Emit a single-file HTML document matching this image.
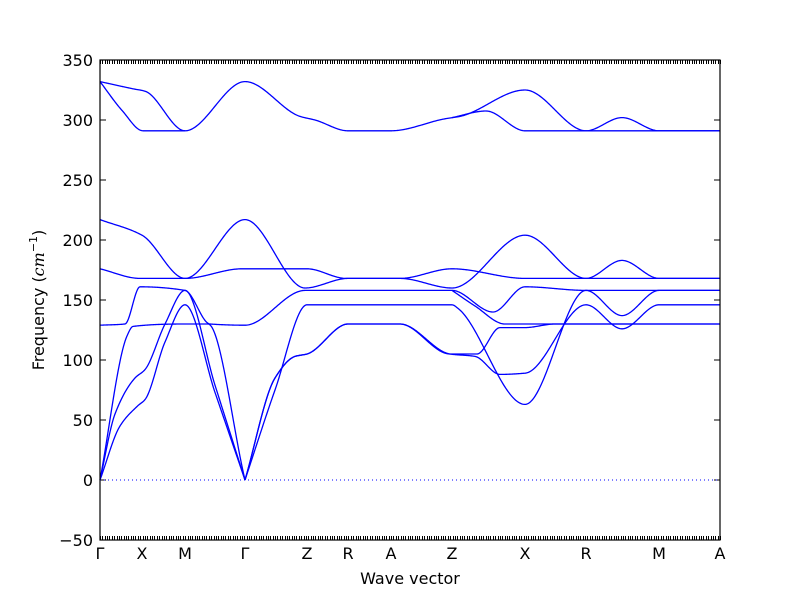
<!DOCTYPE html>
<html><head><meta charset="utf-8"><style>
body{margin:0;background:#fff}
svg text{font-family:"DejaVu Sans","Liberation Sans",sans-serif;fill:#000}
</style></head><body>
<svg id="chart" width="800" height="600" viewBox="0 0 800 600" xmlns="http://www.w3.org/2000/svg">
<rect width="800" height="600" fill="#fff"/>
<g id="ticks"></g>
<g id="bands"></g>
<line x1="100" y1="480" x2="720" y2="480" stroke="#0000ff" stroke-width="1" stroke-dasharray="1,3"/>
<rect x="100" y="60" width="620" height="480" fill="none" stroke="#000" stroke-width="1.2"/>
<g id="ylabels"></g>
<g id="xlabels"></g>
<text x="410" y="584" font-size="16" text-anchor="middle">Wave vector</text>
<text transform="translate(44,300) rotate(-90)" font-size="16" text-anchor="middle">Frequency (<tspan font-family="'DejaVu Serif',serif" font-style="italic">cm</tspan><tspan font-size="11" dy="-7">−1</tspan><tspan dy="7">)</tspan></text>
</svg>
<script>
const yTicks=[-50,0,50,100,150,200,250,300,350];
const qLabels=["Γ","X","M","Γ","Z","R","A","Z","X","R","M","A"];
const qPos=[0,0.42,0.85,1.45,2.07,2.48,2.91,3.52,4.25,4.86,5.59,6.2];
const nQ=262;
const bandT1=[[0,332],[0.33,326],[0.45,324],[0.85,291],[1.45,332],[2.0,303],[2.15,300],[2.48,291],[2.91,291],[3.45,301],[3.6,303],[4.25,325],[4.86,291],[5.22,302],[5.59,291],[6.2,291]];
const bandT2=[[0,332],[0.22,308],[0.43,291],[0.85,291]];
const bandT3=[[3.52,302],[3.86,307.5],[4.25,291],[6.2,291]];
const bandC=[[0,217],[0.42,204],[0.85,168],[1.45,217],[2.05,160],[2.48,168],[2.91,168],[3.0,168],[3.52,176],[4.25,168],[6.2,168]];
const bandD=[[0,176],[0.4,168],[0.85,168],[1.42,176],[2.07,176],[2.46,168],[2.91,168],[3.0,168],[3.52,160],[4.25,204],[4.86,168],[5.22,183],[5.59,168],[6.2,168]];
const bandE=[[0,129],[0.25,130],[0.4,161],[0.85,158],[1.1,130],[1.45,129],[2.05,158],[3.52,158],[3.93,140],[4.25,161],[4.86,158],[6.2,158]];
const bandE2=[[3.52,158],[3.75,145],[4.05,130],[6.2,130]];
const bandF1=[[0,0],[0.27,120],[0.33,128],[0.85,130],[1.08,130],[1.45,0]];
const bandF2=[[0,0],[0.15,55],[0.35,85],[0.45,92],[0.65,130],[0.85,158],[1.15,79],[1.45,0]];
const bandF3=[[0,0],[0.2,45],[0.38,62],[0.45,67],[0.65,115],[0.85,146],[1.15,73],[1.45,0]];
const bandG1=[[1.45,0],[1.75,85],[1.95,103],[2.07,105],[2.48,130],[2.91,130],[3.0,130],[3.5,105],[3.77,105],[4.0,127],[4.25,127],[4.55,130],[6.2,130]];
const bandG2=[[1.45,0],[1.75,85],[1.95,103],[2.07,105],[2.48,130],[2.91,130],[3.0,130],[3.5,105],[3.75,103],[4.0,88],[4.25,89],[4.86,146],[5.22,126],[5.59,146],[6.2,146]];
const bandG3=[[1.45,0],[1.75,75],[2.07,146],[3.52,146],[3.58,143],[4.25,63],[4.86,158],[5.22,137],[5.59,158],[6.2,158]];
const bands=[bandT1,bandT2,bandT3,bandC,bandD,bandE,bandE2,bandF1,bandF2,bandF3,bandG1,bandG2,bandG3];

const NS="http://www.w3.org/2000/svg";
const X0=100,X1=720,Y0=540,Y1=60,QMAX=6.2,FMIN=-50,FMAX=350;
function xs(q){return X0+(q/QMAX)*(X1-X0);}
function ys(f){return Y0-(f-FMIN)/(FMAX-FMIN)*(Y0-Y1);}
function mono(pts){
  const n=pts.length,x=pts.map(p=>p[0]),y=pts.map(p=>p[1]);
  const d=[],m=[];
  for(let i=0;i<n-1;i++)d.push((y[i+1]-y[i])/(x[i+1]-x[i]));
  for(let i=0;i<n;i++){
    if(i===0)m.push(d[0]);else if(i===n-1)m.push(d[n-2]);
    else if(d[i-1]*d[i]<=0)m.push(0);
    else{const h0=x[i]-x[i-1],h1=x[i+1]-x[i];m.push(3*(h0+h1)/((2*h1+h0)/d[i-1]+(h1+2*h0)/d[i]));}
  }
  return function(t){
    let i=0;while(i<n-2&&t>x[i+1])i++;
    const h=x[i+1]-x[i],s=(t-x[i])/h;
    const h00=2*s*s*s-3*s*s+1,h10=s*s*s-2*s*s+s,h01=-2*s*s*s+3*s*s,h11=s*s*s-s*s;
    return h00*y[i]+h10*h*m[i]+h01*y[i+1]+h11*h*m[i+1];
  };
}
const gB=document.getElementById('bands');
bands.forEach((b,k)=>{
  const f=mono(b);const a=b[0][0],e=b[b.length-1][0];
  let d="";const N=Math.ceil((e-a)*120);
  for(let j=0;j<=N;j++){const q=a+(e-a)*j/N;d+=(j?"L":"M")+xs(q).toFixed(2)+","+ys(f(q)).toFixed(2);}
  const p=document.createElementNS(NS,'path');
  p.setAttribute('d',d);p.setAttribute('fill','none');p.setAttribute('stroke','#0000ff');p.setAttribute('stroke-width','1.3');
  
  
  gB.appendChild(p);
});
const gT=document.getElementById('ticks');
let td="";
for(let i=0;i<=nQ;i++){const x=Math.round(X0+(X1-X0)*i/nQ)+0.5;td+=`M${x},${Y0}V${Y0-4}M${x},${Y1}V${Y1+4}`;}
yTicks.forEach(v=>{const y=ys(v);td+=`M${X0},${y}H${X0+6}M${X1},${y}H${X1-6}`;});
const tp=document.createElementNS(NS,'path');
tp.setAttribute('d',td);tp.setAttribute('stroke','#000');tp.setAttribute('stroke-width','1');
tp.setAttribute('shape-rendering','crispEdges');


gT.appendChild(tp);
const gY=document.getElementById('ylabels');
yTicks.forEach(v=>{
  const t=document.createElementNS(NS,'text');
  t.setAttribute('x',93);t.setAttribute('y',ys(v)+6);t.setAttribute('text-anchor','end');t.setAttribute('font-size','16');
  t.textContent=v<0?"−"+(-v):String(v);
  
  
  gY.appendChild(t);
});
const gX=document.getElementById('xlabels');
qLabels.forEach((l,i)=>{
  const t=document.createElementNS(NS,'text');
  t.setAttribute('x',xs(qPos[i]));t.setAttribute('y',559);t.setAttribute('text-anchor','middle');t.setAttribute('font-size','16');
  if(l==="Γ")t.setAttribute('font-family',"'DejaVu Serif',serif");
  t.textContent=l;
  
  
  gX.appendChild(t);
});
</script>
</body></html>
